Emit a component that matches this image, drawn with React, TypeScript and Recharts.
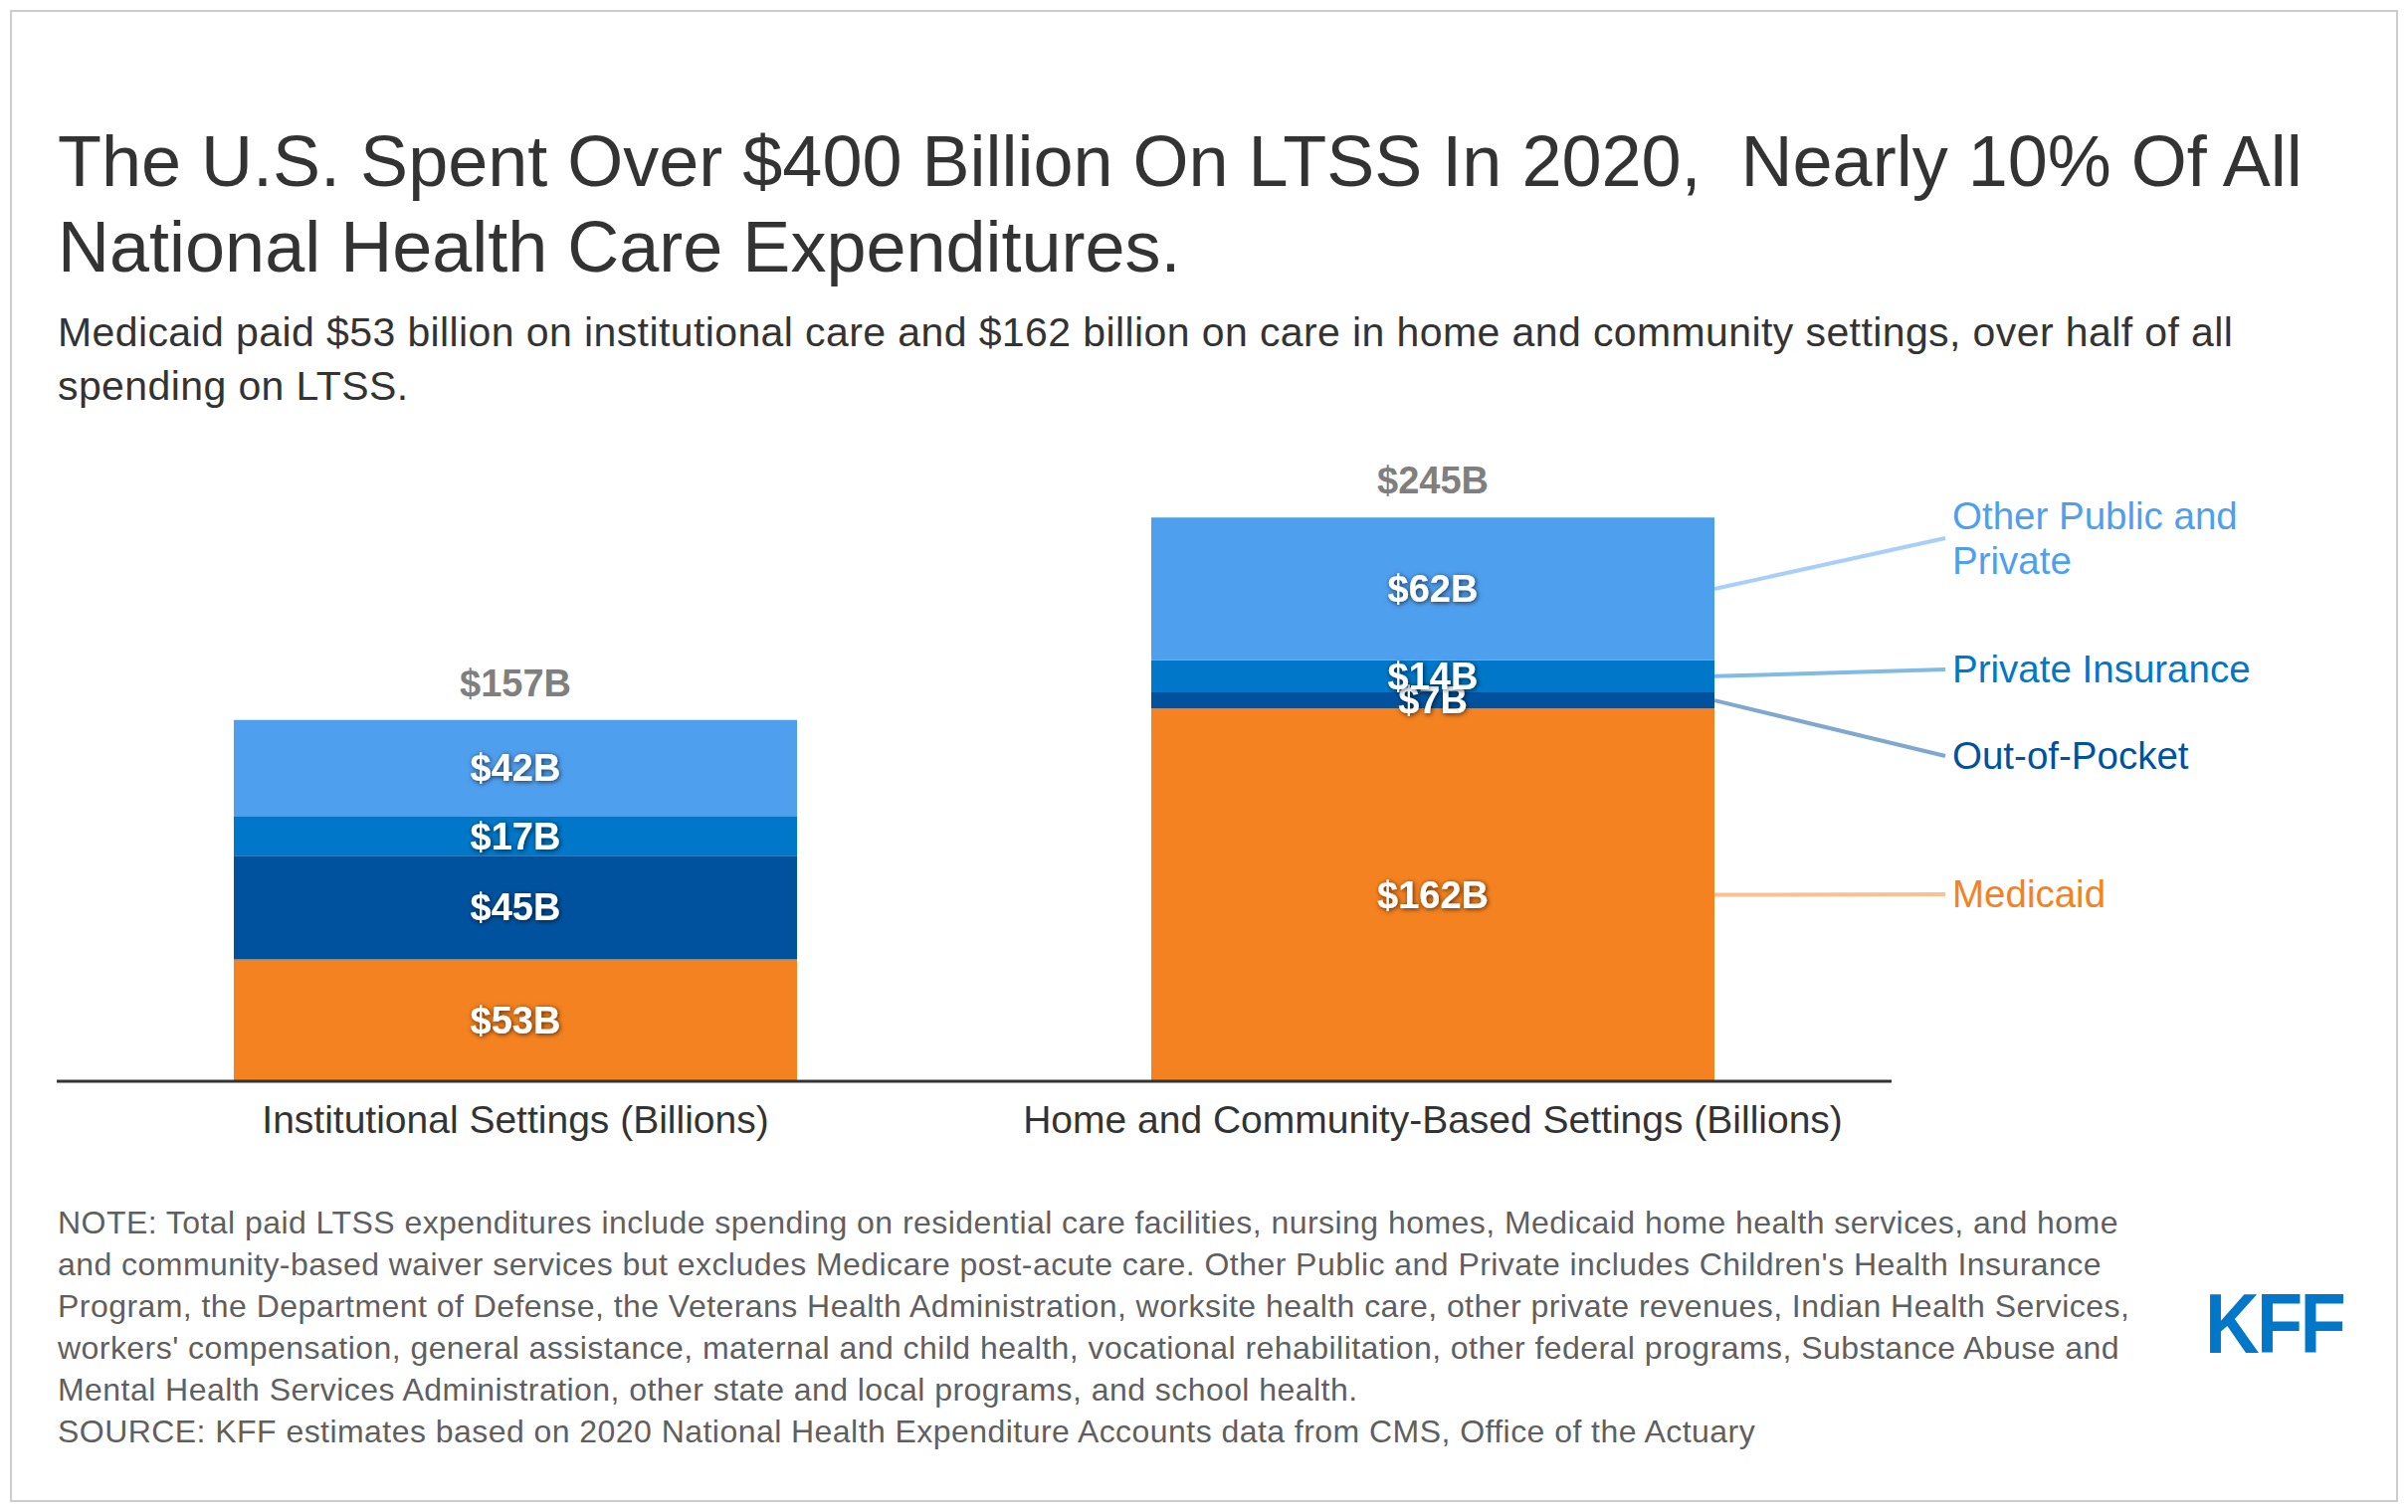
import React from 'react';
import { BarChart, Bar, XAxis, YAxis, LabelList } from 'recharts';

// Categories and stacked series, in billions of dollars
const categories = ['Institutional Settings (Billions)', 'Home and Community-Based Settings (Billions)'];
const medicaid = [53, 162];
const outOfPocket = [45, 7];
const privateInsurance = [17, 14];
const otherPublicPrivate = [42, 62];

const titleLines = [
  'The U.S. Spent Over $400 Billion On LTSS In 2020,  Nearly 10% Of All',
  'National Health Care Expenditures.',
];
const subtitleLines = [
  'Medicaid paid $53 billion on institutional care and $162 billion on care in home and community settings, over half of all',
  'spending on LTSS.',
];
const noteLines = [
  'NOTE: Total paid LTSS expenditures include spending on residential care facilities, nursing homes, Medicaid home health services, and home',
  "and community-based waiver services but excludes Medicare post-acute care. Other Public and Private includes Children's Health Insurance",
  'Program, the Department of Defense, the Veterans Health Administration, worksite health care, other private revenues, Indian Health Services,',
  "workers' compensation, general assistance, maternal and child health, vocational rehabilitation, other federal programs, Substance Abuse and",
  'Mental Health Services Administration, other state and local programs, and school health.',
  'SOURCE: KFF estimates based on 2020 National Health Expenditure Accounts data from CMS, Office of the Actuary',
];

const FONT = '"Liberation Sans", Arial, Helvetica, sans-serif';

const series = [
  { key: 'medicaid', label: ['Medicaid'], color: '#F58220', legendY: 899 },
  { key: 'oop', label: ['Out-of-Pocket'], color: '#00529F', legendY: 760 },
  { key: 'pi', label: ['Private Insurance'], color: '#0077C8', legendY: 673 },
  { key: 'other', label: ['Other Public and', 'Private'], color: '#4F9FEF', legendY: 541 },
];

const data = categories.map((name, i) => ({
  name,
  medicaid: medicaid[i],
  oop: outOfPocket[i],
  pi: privateInsurance[i],
  other: otherPublicPrivate[i],
  total: medicaid[i] + outOfPocket[i] + privateInsurance[i] + otherPublicPrivate[i],
}));

const LINE_END_X = 1955;
const LEGEND_TEXT_X = 1962;

const rect = (props: any) => {
  const vb = props.viewBox ?? props;
  return { x: Number(vb.x), y: Number(vb.y), width: Number(vb.width), height: Number(vb.height) };
};

const segmentLabel = (props: any) => {
  const { x, y, width, height } = rect(props);
  return (
    <text
      x={x + width / 2}
      y={y + height / 2 + 13}
      textAnchor="middle"
      fill="#fff"
      fontSize={38}
      fontWeight={700}
      fontFamily={FONT}
      filter="url(#labelShadow)"
    >
      {`$${props.value}B`}
    </text>
  );
};

const totalLabel = (props: any) => {
  const { x, y, width } = rect(props);
  return (
    <text x={x + width / 2} y={y - 24} textAnchor="middle" fill="#7f7f7f" fontSize={38} fontWeight={700} fontFamily={FONT}>
      {`$${props.value}B`}
    </text>
  );
};

// connector + label drawn from the right edge of the second bar
const legendLabel = (s: (typeof series)[number]) => (props: any) => {
  if (props.index !== 1) return null;
  const { x, y, width, height } = rect(props);
  const n = s.label.length;
  return (
    <g>
      <line
        x1={x + width}
        y1={y + height / 2}
        x2={LINE_END_X}
        y2={s.legendY}
        stroke={s.color}
        strokeOpacity={0.5}
        strokeWidth={4}
      />
      <text fill={s.color} fontSize={38.5} fontFamily={FONT}>
        {s.label.map((l, i) => (
          <tspan key={i} x={LEGEND_TEXT_X} y={s.legendY + 13 + (i - (n - 1) / 2) * 45}>
            {l}
          </tspan>
        ))}
      </text>
    </g>
  );
};

const CategoryTick = (props: any) => (
  <text x={props.x} y={props.y + 52} textAnchor="middle" fill="#333" fontSize={39} fontFamily={FONT}>
    {props.payload.value}
  </text>
);

export default function App() {
  return (
    <div style={{ position: 'relative', width: 2420, height: 1520, background: '#fff', overflow: 'hidden', fontFamily: FONT }}>
      <style>{'body{margin:0}'}</style>
      <svg width={0} height={0} style={{ position: 'absolute' }}>
        <defs>
          <filter id="labelShadow" x="-20%" y="-40%" width="140%" height="180%">
            <feDropShadow dx={1} dy={1} stdDeviation={2.5} floodColor="#000" floodOpacity={0.7} />
          </filter>
        </defs>
      </svg>

      <div
        style={{
          position: 'absolute',
          left: 10,
          top: 10,
          width: 2400,
          height: 1500,
          border: '2px solid #cccccc',
          boxSizing: 'border-box',
        }}
      />

      <div style={{ position: 'absolute', left: 58, top: 119, fontSize: 72, lineHeight: '86px', color: '#333', whiteSpace: 'pre' }}>
        {titleLines.map((l, i) => (
          <div key={i}>{l}</div>
        ))}
      </div>

      <div
        style={{
          position: 'absolute',
          left: 58,
          top: 307,
          fontSize: 41,
          letterSpacing: 0.4,
          lineHeight: '54px',
          color: '#333',
          whiteSpace: 'nowrap',
        }}
      >
        {subtitleLines.map((l, i) => (
          <div key={i}>{l}</div>
        ))}
      </div>

      <div style={{ position: 'absolute', left: 0, top: 0 }}>
        <BarChart
          width={2420}
          height={1520}
          data={data}
          margin={{ top: 393, right: 519, bottom: 373, left: 57 }}
          barSize={566}
          style={{ fontFamily: FONT }}
        >
          <YAxis hide type="number" domain={[0, 300]} />
          <XAxis
            dataKey="name"
            height={60}
            tickLine={false}
            tickSize={0}
            tickMargin={0}
            axisLine={{ stroke: '#333', strokeWidth: 3 }}
            tick={<CategoryTick />}
            interval={0}
          />
          {series.map((s) => (
            <Bar key={s.key} dataKey={s.key} stackId="a" fill={s.color} isAnimationActive={false}>
              <LabelList dataKey={s.key} content={segmentLabel} />
              <LabelList dataKey={s.key} content={legendLabel(s)} />
              {s.key === 'other' && <LabelList dataKey="total" content={totalLabel} />}
            </Bar>
          ))}
        </BarChart>
      </div>

      <div
        style={{
          position: 'absolute',
          left: 58,
          top: 1208,
          fontSize: 32,
          letterSpacing: 0.45,
          lineHeight: '42px',
          color: '#5f5f5f',
          whiteSpace: 'nowrap',
        }}
      >
        {noteLines.map((l, i) => (
          <div key={i}>{l}</div>
        ))}
      </div>

      <div
        style={{
          position: 'absolute',
          left: 2216,
          top: 1282,
          fontSize: 86,
          lineHeight: '96px',
          fontWeight: 700,
          color: '#0077C8',
          letterSpacing: -3,
          transform: 'scaleX(0.88)',
          transformOrigin: 'left top',
          whiteSpace: 'nowrap',
        }}
      >
        KFF
      </div>
    </div>
  );
}
